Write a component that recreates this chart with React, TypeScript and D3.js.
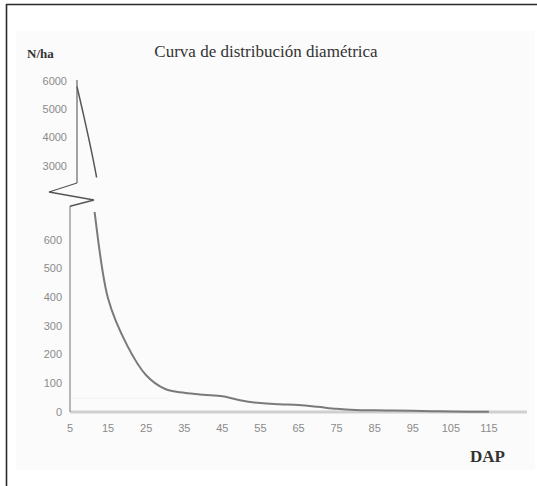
import React from "react";
import * as d3 from "d3";

const dapClasses = [5, 10, 15, 20, 25, 30, 35, 40, 45, 50, 55, 60, 65, 70, 75, 80, 85, 90, 95, 100, 105, 110, 115];
const nPerHa = [5800, 2700, 395, 232, 128, 80, 67, 60, 55, 40, 31, 27, 24, 18, 11, 7, 6, 5, 4, 3, 2, 1, 1];
const xTicks = [5, 15, 25, 35, 45, 55, 65, 75, 85, 95, 105, 115];
const yLowerTicks = [0, 100, 200, 300, 400, 500, 600];
const yUpperTicks = [3000, 4000, 5000, 6000];
const title = "Curva de distribución diamétrica";
const yTitle = "N/ha";
const xTitle = "DAP";

const W = 537;
const H = 486;
const SERIF = "'Liberation Serif', 'Times New Roman', serif";
const SANS = "'Liberation Sans', Arial, sans-serif";

export default function App() {
  const x = d3.scaleLinear().domain([5, 125]).range([70, 527]);
  // broken axis: lower section 0..700, upper section 2600..6000
  const y = d3.scaleLinear().domain([0, 700, 2600, 6000]).range([412, 211, 177.3, 81]);
  const upperShift = 7;
  const pts = dapClasses.map((d, i) => [x(d), y(nPerHa[i])] as [number, number]);
  const line = d3.line().curve(d3.curveCatmullRom.alpha(0.5))(pts) || "";
  const ax = x(5);

  return (
    <svg width={W} height={H} style={{ position: "absolute", left: 0, top: 0 }}>
      <defs>
        <clipPath id="clipUpper" clipPathUnits="userSpaceOnUse">
          <rect x={0} y={0} width={W} height={177.5} />
        </clipPath>
        <clipPath id="clipLower" clipPathUnits="userSpaceOnUse">
          <rect x={0} y={212} width={W} height={H - 212} />
        </clipPath>
      </defs>
      <rect x={0} y={0} width={W} height={H} fill="#ffffff" />
      <rect x={16} y={31} width={519} height={439} fill="#fbfbfb" />
      {/* frame */}
      <line x1={6} y1={4.5} x2={W} y2={4.5} stroke="#2a2a2a" strokeWidth={1.6} />
      <line x1={6.5} y1={4} x2={6.5} y2={H} stroke="#2a2a2a" strokeWidth={1.6} />

      <text x={266} y={57} textAnchor="middle" fontFamily={SERIF} fontSize={17} fill="#333">{title}</text>
      <text x={27} y={58} fontFamily={SERIF} fontSize={13} fontWeight="bold" fill="#333">{yTitle}</text>
      <text x={470} y={462} fontFamily={SERIF} fontSize={17} fontWeight="bold" fill="#333">{xTitle}</text>

      {/* faint line */}
      <line x1={ax} y1={398} x2={167} y2={398} stroke="#f0f0f0" strokeWidth={1} />

      {/* x axis */}
      <line x1={ax} y1={y(0)} x2={x(125)} y2={y(0)} stroke="#cfcfcf" strokeWidth={3} />
      {xTicks.map((t) => (
        <text key={t} x={x(t)} y={432} textAnchor="middle" fontFamily={SANS} fontSize={11} fill="#8a8a8a">{t}</text>
      ))}

      {/* lower y axis */}
      <line x1={ax} y1={206} x2={ax} y2={y(0)} stroke="#999" strokeWidth={1.4} />
      {yLowerTicks.map((t) => (
        <text key={t} x={62} y={y(t)} dy="0.35em" textAnchor="end" fontFamily={SANS} fontSize={11} fill="#8a8a8a">{t}</text>
      ))}

      {/* upper y axis (offset) */}
      <g transform={`translate(${upperShift},0)`}>
        <line x1={ax} y1={80} x2={ax} y2={183} stroke="#666" strokeWidth={1.2} />
        {yUpperTicks.map((t) => (
          <text key={t} x={67 - upperShift} y={y(t)} dy="0.35em" textAnchor="end" fontFamily={SANS} fontSize={11} fill="#8a8a8a">{t}</text>
        ))}
        <path d={line} fill="none" stroke="#555" strokeWidth={1.5} clipPath="url(#clipUpper)" />
      </g>

      {/* axis break zigzag */}
      <path
        d={`M${ax + upperShift},183 L${ax - 21},192 L${ax + 24},200 L${ax + 1},206 L${ax},206`}
        fill="none"
        stroke="#555"
        strokeWidth={1.3}
      />

      {/* lower curve */}
      <path d={line} fill="none" stroke="#7a7a7a" strokeWidth={2} clipPath="url(#clipLower)" />
    </svg>
  );
}
